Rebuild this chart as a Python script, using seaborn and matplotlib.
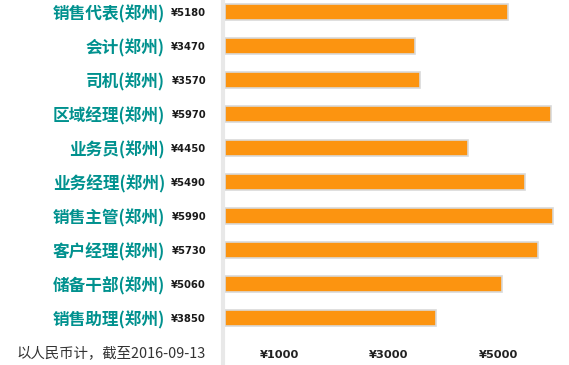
import matplotlib
matplotlib.use("Agg")
import matplotlib.pyplot as plt
from matplotlib.lines import Line2D
import seaborn as sns
import pandas as pd

categories = ["销售代表(郑州)", "会计(郑州)", "司机(郑州)", "区域经理(郑州)", "业务员(郑州)",
              "业务经理(郑州)", "销售主管(郑州)", "客户经理(郑州)", "储备干部(郑州)", "销售助理(郑州)"]
salaries = [5180, 3470, 3570, 5970, 4450, 5490, 5990, 5730, 5060, 3850]
tick_values = [1000, 3000, 5000]
tick_labels = ["¥1000", "¥3000", "¥5000"]
footnote = "以人民币计，截至2016-09-13"

sns.set_style("white")
plt.rcParams["font.family"] = ["Noto Sans CJK SC", "DejaVu Sans"]

W, H = 569, 365
fig = plt.figure(figsize=(W / 100, H / 100), dpi=100)
left_px, top_px, bottom_px = 225, 0, 335
ax = fig.add_axes([left_px / W, (H - bottom_px) / H, (W - left_px) / W, (bottom_px - top_px) / H])

df = pd.DataFrame({"job": categories, "salary": salaries})
sns.barplot(data=df, x="salary", y="job", orient="h", color="#fc9410", saturation=1,
            edgecolor="#d9d9d9", linewidth=1.2, width=0.45, ax=ax)

px_per_row = 34
top_unit = -12 / px_per_row
ax.set_ylim(top_unit + (bottom_px - top_px) / px_per_row, top_unit)
ax.set_xlim(0, 6290)

for s in ax.spines.values():
    s.set_visible(False)
ax.set_yticks([])
ax.set_ylabel("")
ax.set_xlabel("")
ax.set_xticks(tick_values)
ax.set_xticklabels(tick_labels, fontsize=8.2, fontweight="bold", color="#222222", family="DejaVu Sans")
ax.tick_params(axis="x", length=0, pad=11)

ytr = ax.get_yaxis_transform()
for i, (c, v) in enumerate(zip(categories, salaries)):
    ax.annotate(c, xy=(0, i), xycoords=ytr, xytext=(-60 * 0.72, 0), textcoords="offset points",
                ha="right", va="center_baseline", fontsize=12, fontweight="bold", color="#00918e",
                annotation_clip=False)
    ax.annotate(f"¥{v}", xy=(0, i), xycoords=ytr, xytext=(-19 * 0.72, 0), textcoords="offset points",
                ha="right", va="center_baseline", fontsize=7.2, fontweight="bold", color="#1a1a1a",
                family="DejaVu Sans", annotation_clip=False)

fig.add_artist(Line2D([223 / W, 223 / W], [0, 1], color="#e8e8e8", linewidth=3, transform=fig.transFigure))
fig.text(206 / W, 1 - 353 / H, footnote, ha="right", va="center", fontsize=10.4, color="#333333")

fig.savefig("out.png", dpi=100, facecolor="white")
